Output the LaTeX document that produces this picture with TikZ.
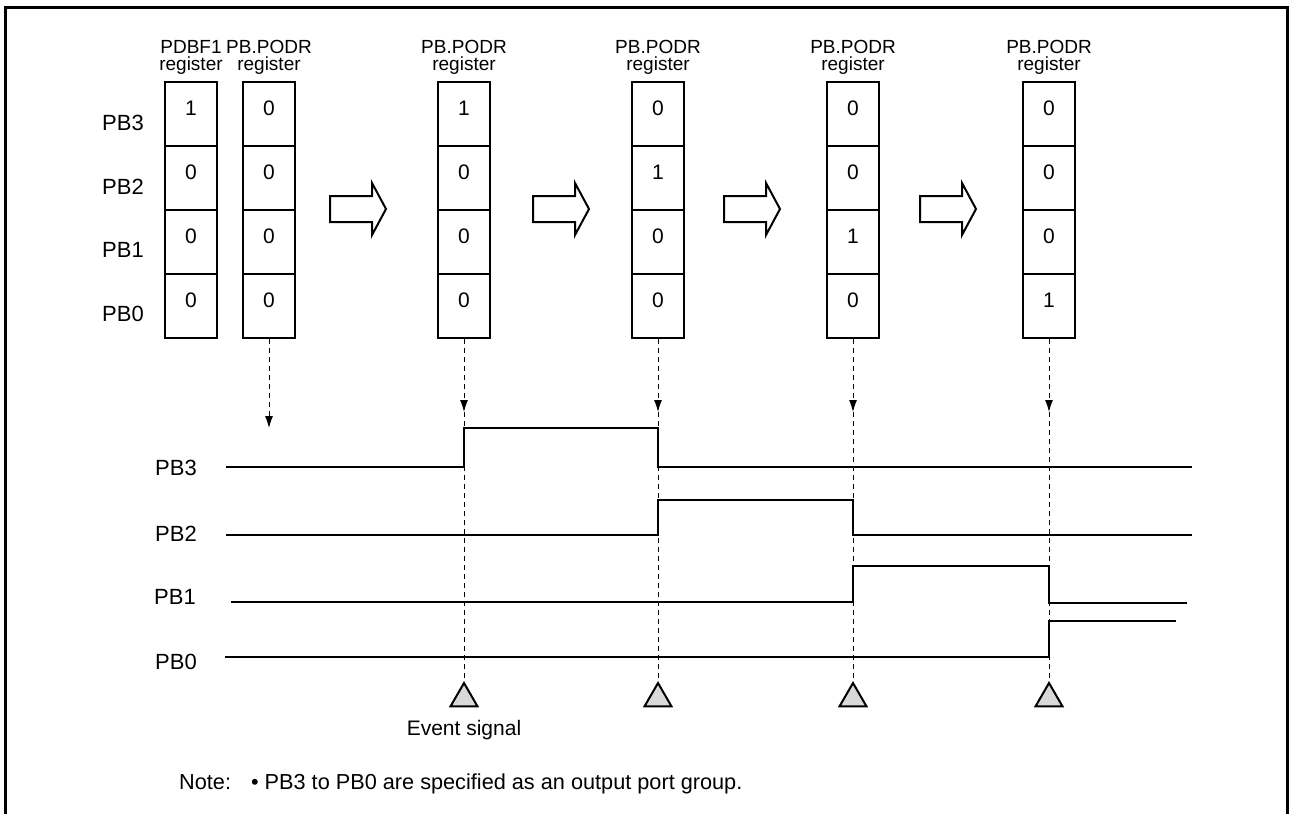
\documentclass[tikz,border=0pt]{standalone}
\usepackage{fontspec}
\setmainfont{Liberation Sans}
\usetikzlibrary{positioning,arrows.meta,shapes.geometric}

\begin{document}
\begin{tikzpicture}[x=1pt,y=-1pt,
            cell/.style={rectangle,draw,line width=2pt,minimum width=52pt,
                         minimum height=64pt,inner sep=0pt,text height=15pt,
                         text depth=12pt,font=\fontsize{21}{22}\selectfont},
            head/.style={align=center,inner sep=0pt,
                         font=\fontsize{19}{17.5}\selectfont},
            lbl/.style={inner sep=0pt,font=\fontsize{21}{22}\selectfont},
            port/.style={inner sep=0pt,font=\fontsize{22}{24}\selectfont},
            wave/.style={line width=2.5pt},
            hollow/.style={draw,line width=2pt,fill=white,line join=miter},
            evt/.style={regular polygon,regular polygon sides=3,draw,
                        line width=2pt,fill=black!15,minimum size=31pt,inner sep=0pt},
            guide/.style={dash pattern=on 5pt off 4pt,line width=1pt},
            tip/.style={guide,-{Latex[length=12pt,width=8pt]}}]
            \useasboundingbox (0,0) rectangle (1290,814);
            \draw[line width=3.3pt] (5.7,814) -- (5.7,7.7) -- (1287.5,7.7) -- (1287.5,814);
            % row labels
            \node[port] (row3) at (123,123) {PB3};
            \node[port] (row2) at (123,187) {PB2};
            \node[port] (row1) at (123,250) {PB1};
            \node[port] (row0) at (123,314) {PB0};
            % registers
            \foreach \reg/\x/\a/\b/\c/\d in {pdbf/191/1/0/0/0, podrA/269/0/0/0/0,
                     podrB/464/1/0/0/0, podrC/658/0/1/0/0, podrD/853/0/0/1/0,
                     podrE/1049/0/0/0/1} {
              \node[cell] (\reg-3) at (\x,114) {\a};
              \node[cell] (\reg-2) at (\x,178) {\b};
              \node[cell] (\reg-1) at (\x,242) {\c};
              \node[cell] (\reg-0) at (\x,306) {\d};
            }
            \node[head,above=6pt of pdbf-3]  (hpdbf)  {PDBF1\\register};
            \node[head,above=6pt of podrA-3] (hpodrA) {PB.PODR\\register};
            \node[head,above=6pt of podrB-3] (hpodrB) {PB.PODR\\register};
            \node[head,above=6pt of podrC-3] (hpodrC) {PB.PODR\\register};
            \node[head,above=6pt of podrD-3] (hpodrD) {PB.PODR\\register};
            \node[head,above=6pt of podrE-3] (hpodrE) {PB.PODR\\register};
            % hollow arrows
            \foreach \x in {330,533,724,920}
              \draw[hollow] (\x,196) -- (\x+42,196) -- (\x+42,183) -- (\x+56,209)
                            -- (\x+42,235) -- (\x+42,222) -- (\x,222) -- cycle;
            % event signals
            \node[evt] (evB) at (464,698.5) {};
            \node[evt] (evC) at (658,698.5) {};
            \node[evt] (evD) at (853,698.5) {};
            \node[evt] (evE) at (1049,698.5) {};
            \node[lbl] (evlabel) at (464,730) {Event signal};
            % dashed guides
            \coordinate (tA) at (269,428);
            \coordinate (tB) at (464,412);
            \coordinate (tC) at (658,412);
            \coordinate (tD) at (853,412);
            \coordinate (tE) at (1049,412);
            \draw[tip] (podrA-0.south) -- (tA);
            \draw[tip] (podrB-0.south) -- (tB); \draw[guide] (tB) -- (evB.corner 1);
            \draw[tip] (podrC-0.south) -- (tC); \draw[guide] (tC) -- (evC.corner 1);
            \draw[tip] (podrD-0.south) -- (tD); \draw[guide] (tD) -- (evD.corner 1);
            \draw[tip] (podrE-0.south) -- (tE); \draw[guide] (tE) -- (evE.corner 1);
            % waveforms
            \node[port] (sig3) at (176,468) {PB3};
            \node[port] (sig2) at (176,534) {PB2};
            \node[port] (sig1) at (175,597) {PB1};
            \node[port] (sig0) at (176,662) {PB0};
            \draw[wave] (226,467) -- (464,467) -- (464,428) -- (658,428) -- (658,467) -- (1192,467);
            \draw[wave] (226,535) -- (658,535) -- (658,500) -- (853,500) -- (853,535) -- (1192,535);
            \draw[wave] (231,602) -- (853,602) -- (853,566) -- (1049,566) -- (1049,603) -- (1187,603);
            \draw[wave] (225,657) -- (1049,657) -- (1049,621) -- (1176,621);
            % note
            \node[lbl,anchor=west,font=\fontsize{21.7}{23}\selectfont] (note) at (179,784)
                 {Note:\hspace{20pt}\textbullet\ PB3 to PB0 are specified as an output port group.};
        \end{tikzpicture}
\end{document}
